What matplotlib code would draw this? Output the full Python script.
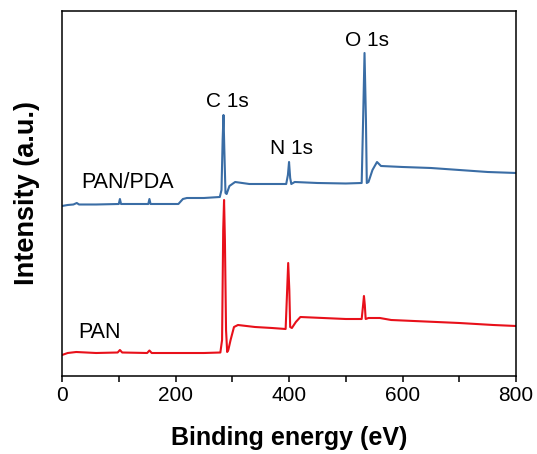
import matplotlib
matplotlib.use('Agg')
import matplotlib.pyplot as plt
from matplotlib.ticker import MultipleLocator

plt.rcParams['font.family'] = ['Liberation Sans', 'DejaVu Sans']

# PAN survey spectrum (binding energy in eV, intensity in a.u.)
pan_energy = [0, 10, 25, 60, 98, 102, 106, 150, 154, 158, 200, 250, 279, 282, 284,
              285.5, 287, 289, 291, 293, 297, 303, 310, 340, 370, 394, 396, 398.5,
              400.5, 402, 405, 412, 420, 460, 500, 528, 530.5, 532, 533.5, 535, 540,
              560, 580, 620, 700, 760, 800]
pan_intensity = [21, 23, 24, 23, 23.5, 26, 23.5, 23, 25.5, 23, 23, 23, 23.5, 36, 146,
                 176, 136, 46, 24, 26, 36, 49, 51, 49, 48, 47, 76, 113,
                 86, 49, 48, 54, 59, 58, 57, 57, 71, 80, 71, 57, 58,
                 58, 56, 55, 53, 51, 50]

# PAN/PDA survey spectrum
pda_energy = [0, 10, 20, 26, 30, 60, 100, 102, 104, 152, 154, 156, 205, 213, 220,
              250, 278, 281, 283, 284.5, 286, 288, 290, 295, 305, 330, 360, 395,
              398, 400, 402, 404, 410, 450, 500, 528, 530.5, 533, 535.5, 537, 540,
              547, 555, 562, 600, 650, 700, 750, 800]
pda_intensity = [170, 171, 171.5, 173, 171.5, 171.5, 172, 177, 172, 172, 177, 172, 172, 177, 178,
                 178, 179, 186, 236, 261, 226, 183, 182, 190, 194, 192, 192, 192,
                 201, 214, 198, 192, 194, 193, 192.5, 193, 256, 323, 256, 193, 194,
                 206, 214, 210, 209, 208, 206, 204, 203]

peak_labels = ['C 1s', 'N 1s', 'O 1s']
peak_label_pos = [(291, 274), (404, 227), (537, 335)]

fig = plt.figure(figsize=(5.37, 4.54), dpi=100)
ax = fig.add_axes([0.1155, 0.1718, 0.8455, 0.804])

ax.plot(pda_energy, pda_intensity, color='#3A6DA5', lw=1.5)
ax.plot(pan_energy, pan_intensity, color='#E8101A', lw=1.5)

ax.text(34, 193, 'PAN/PDA', fontsize=15.5, ha='left', va='center')
ax.text(28, 43.5, 'PAN', fontsize=15.5, ha='left', va='center')
for lab, (x, y) in zip(peak_labels, peak_label_pos):
    ax.text(x, y, lab, fontsize=15, ha='center', va='center')

ax.set_xlim(0, 800)
ax.set_ylim(0, 365)
ax.set_yticks([])
ax.xaxis.set_major_locator(MultipleLocator(200))
ax.xaxis.set_minor_locator(MultipleLocator(100))
ax.tick_params(axis='x', which='both', direction='out', length=4, width=1.1, labelsize=15)
for s in ax.spines.values():
    s.set_linewidth(1.1)

ax.set_xlabel('Binding energy (eV)', fontsize=18, fontweight='bold', labelpad=15)
ax.set_ylabel('Intensity (a.u.)', fontsize=19.5, fontweight='bold', labelpad=16)

fig.savefig('out.png', dpi=100)
